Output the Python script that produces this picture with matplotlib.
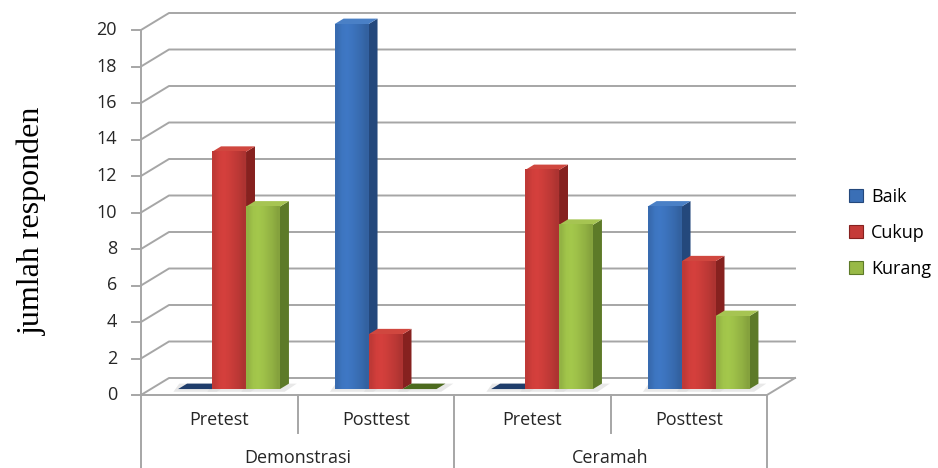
import matplotlib
matplotlib.use("Agg")
import matplotlib.pyplot as plt
import numpy as np
from matplotlib.patches import Polygon, Rectangle, Patch
from matplotlib.colors import to_rgb

# ---- data ----
groups = ["Demonstrasi", "Ceramah"]
tests = ["Pretest", "Posttest", "Pretest", "Posttest"]
series = ["Baik", "Cukup", "Kurang"]
baik = [0, 20, 0, 10]
cukup = [13, 3, 12, 7]
kurang = [10, 0, 9, 4]
yticks = list(range(0, 21, 2))

# ---- style ----
front_c = ["#3a6fb6", "#c53b38", "#98b946"]
side_c = ["#24487c", "#86211f", "#5d7a28"]
top_c = ["#4a80c6", "#d0473f", "#a6c452"]
zero_c = ["#1f3d6b", "#7a1d1b", "#4c6a1e"]
grid_c = "#a6a6a6"
txt_c = "#262626"
FS = 13
FONT = "Open Sans"

fig = plt.figure(figsize=(9.38, 4.68), dpi=100)
PXX = 156.5   # px per category
PXY = 18.25   # px per unit
ax = fig.add_axes([141/938, 73/468, 4.25*PXX/938, 21*PXY/468])
ax.axis("off")

DX = 28/PXX
DY = 17/PXY
F = 0.35      # depth position of bars
BD = 0.32     # bar depth fraction
W = 0.217
M = (1 - 3*W)/2
n = len(tests)

# walls / gridlines
for v in yticks:
    ax.plot([0, DX, n+DX], [v, v+DY, v+DY], color=grid_c, lw=1.4, clip_on=False, zorder=1)
    ax.plot([-9/PXX, 0], [v, v], color=grid_c, lw=1.4, clip_on=False, zorder=1)
    ax.text(-24/PXX, v, str(v), ha="right", va="center", fontsize=FS,
            family=FONT, color=txt_c)
ax.plot([0, 0], [0, yticks[-1]], color=grid_c, lw=1.4, clip_on=False, zorder=1)
ax.plot([0, n, n+DX], [0, 0, DY], color=grid_c, lw=1.4, clip_on=False, zorder=1)

# category axis
ybot = -73/PXY
ymid = -38/PXY
for k in range(n+1):
    ax.plot([k, k], [0, ybot if k % 2 == 0 else ymid], color=grid_c, lw=1.4,
            clip_on=False, zorder=1)
for k, t in enumerate(tests):
    ax.text(k+0.5, -25/PXY, t, ha="center", va="center", fontsize=FS,
            family=FONT, color=txt_c)
for g, name in enumerate(groups):
    ax.text(2*g+1, -63/PXY, name, ha="center", va="center", fontsize=FS,
            family=FONT, color=txt_c)

# bars
vals = [baik, cukup, kurang]
bdx, bdy = BD*DX, BD*DY
y0 = F*DY
shade = np.array([0.97, 1.06, 1.08, 1.05, 1.0, 0.95, 0.88])
z = 5
for i in range(n):
    for j in range(3):
        v = vals[j][i]
        x0 = i + F*DX + M + j*W
        # soft shadow on floor
        ax.add_patch(Polygon([(x0-0.03, y0-0.15), (x0+W+0.03, y0-0.15),
                              (x0+W+bdx+0.05, y0+bdy), (x0+bdx-0.05, y0+bdy)],
                             closed=True, fc="#d9d9d9", ec="none", alpha=0.6,
                             zorder=2, clip_on=False))
        if v == 0:
            ax.add_patch(Polygon([(x0, y0), (x0+W, y0), (x0+W+bdx, y0+bdy), (x0+bdx, y0+bdy)],
                                 closed=True, fc=zero_c[j], ec="none", zorder=z, clip_on=False))
        else:
            ax.add_patch(Polygon([(x0+W, y0), (x0+W+bdx, y0+bdy), (x0+W+bdx, y0+v+bdy), (x0+W, y0+v)],
                                 closed=True, fc=side_c[j], ec="none", zorder=z, clip_on=False))
            ax.add_patch(Polygon([(x0, y0+v), (x0+W, y0+v), (x0+W+bdx, y0+v+bdy), (x0+bdx, y0+v+bdy)],
                                 closed=True, fc=top_c[j], ec="none", zorder=z, clip_on=False))
            base = np.array(to_rgb(front_c[j]))
            grad = np.clip(base[None, :] * shade[:, None], 0, 1)[None, :, :]
            im = ax.imshow(grad, extent=(x0, x0+W, y0, y0+v), aspect="auto",
                           interpolation="bilinear", zorder=z+0.5)
            im.set_clip_on(False)
        z += 1

ax.set_xlim(0, 4.25)
ax.set_ylim(0, 21)

# y label
fig.text(32/938, 1-221/468, "jumlah responden", rotation=90, ha="center", va="center",
         fontsize=23, family="Liberation Serif", color="black")

# legend
handles = [Patch(fc=front_c[j], ec=side_c[j], lw=0.8, label=series[j]) for j in range(3)]
fig.legend(handles=handles, loc="center left", bbox_to_anchor=(833/938, 1-233/468),
           frameon=False, prop={"family": FONT, "size": FS},
           handlelength=0.75, handleheight=0.75, handletextpad=0.45, labelspacing=1.0)

fig.savefig("out.png", dpi=100, facecolor="white")
